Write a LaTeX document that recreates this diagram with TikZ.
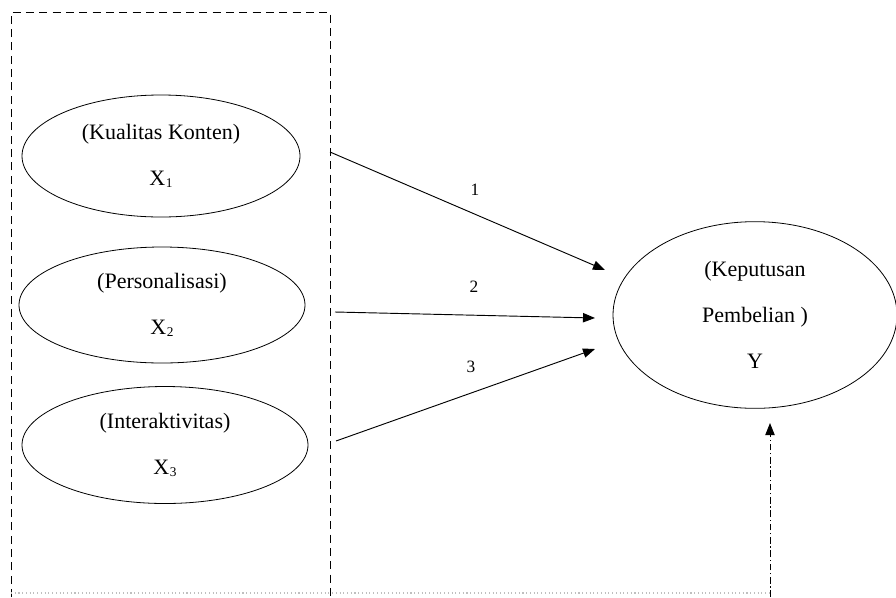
\documentclass[tikz,border=0pt]{standalone}
\usepackage{fontspec}
\setmainfont{Liberation Serif}
\usetikzlibrary{shapes.geometric,arrows.meta}
\tikzset{
  var/.style={draw, ellipse, line width=0.6pt, inner sep=0pt, outer sep=0pt, align=center,
    font=\fontsize{16.5}{34.5}\selectfont},
  conn/.style={line width=0.7pt, -{Triangle[length=9pt,width=7pt]}},
  boxline/.style={line width=0.7pt, dash pattern=on 6pt off 4pt},
  lbl/.style={font=\fontsize{13}{15}\selectfont, inner sep=0pt},
}
\newcommand{\sbx}[1]{X\kern0.5pt\raisebox{-0.2ex}{\fontsize{10}{12}\selectfont #1}}
\begin{document}
\begin{tikzpicture}[x=0.75pt,y=-0.75pt]
\useasboundingbox (0,0) rectangle (896,597);
% dashed box (open at bottom)
\draw[boxline] (11,597) -- (11,12) -- (330,12) -- (330,597);
% faint dotted bottom line
\draw[black!25, line width=0.8pt, dotted] (11,593) -- (770,593);
% ellipses
\node[var, minimum width=208.5pt, minimum height=91.5pt] (x1) at (161,156)
  {(Kualitas Konten)\\\sbx{1}};
\node[var, minimum width=214.5pt, minimum height=87pt] (x2) at (162,305)
  {(Personalisasi)\\\sbx{2}};
\node[var, minimum width=214.5pt, minimum height=87.75pt] (x3) at (165,445)
  {(Interaktivitas)\\\sbx{3}};
\node[var, minimum width=213pt, minimum height=140pt] (y) at (755,315)
  {(Keputusan\\Pembelian )\\Y};
% connector end points
\coordinate (s1) at (330,152);
\coordinate (e1) at (605,270);
\coordinate (s2) at (335,312);
\coordinate (e2) at (595,318);
\coordinate (s3) at (336,441);
\coordinate (e3) at (595,349);
\coordinate (sb) at (770,597);
\coordinate (eb) at (770,423);
\draw[conn] (s1) -- (e1);
\draw[conn] (s2) -- (e2);
\draw[conn] (s3) -- (e3);
\draw[conn, dash pattern=on 5pt off 2pt on 1pt off 2pt] (sb) -- (eb);
% labels
\node[lbl] (l1) at (475,190) {1};
\node[lbl] (l2) at (474,287) {2};
\node[lbl] (l3) at (471,367) {3};
\end{tikzpicture}
\end{document}
